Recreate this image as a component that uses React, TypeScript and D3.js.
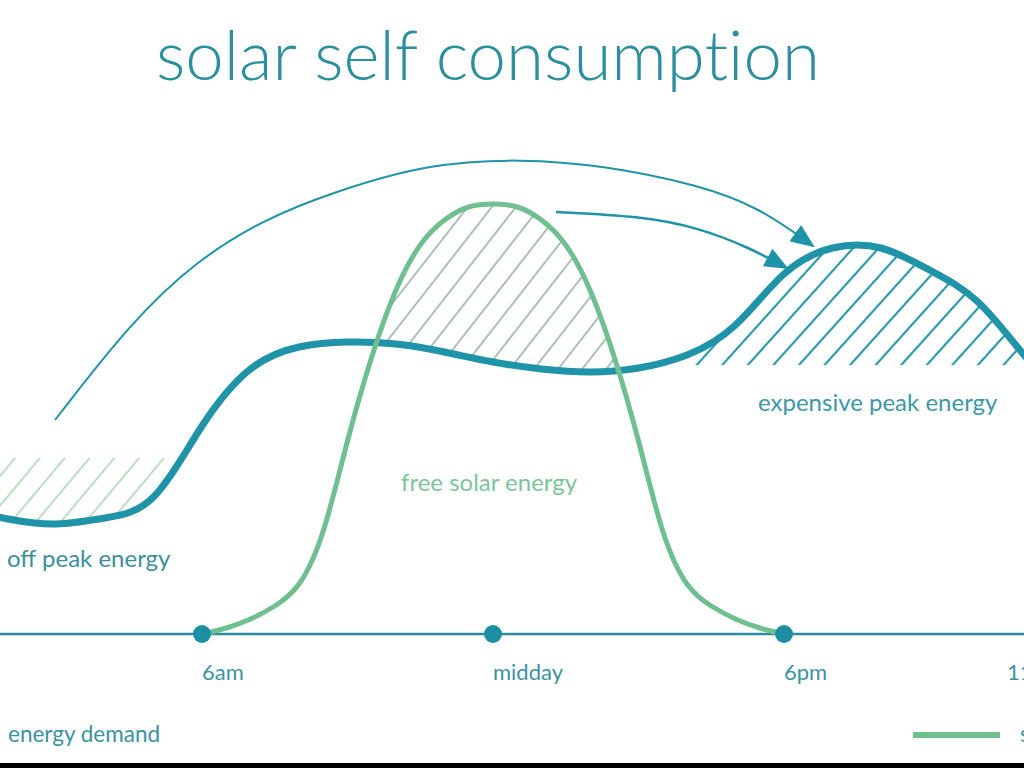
import React from "react";
import * as d3 from "d3";

// ---- data (hour of day, energy in arbitrary kW units) ----
const demandHours = [0, 1, 2, 3, 4, 5, 6, 7, 8, 9, 10, 11, 12, 13, 14, 15, 16, 17, 18, 19, 20, 21, 22, 23, 24];
const demandValues = [2.78, 2.52, 2.3, 2.2, 2.32, 2.74, 4.16, 5.3, 5.74, 5.84, 5.8, 5.64, 5.44, 5.3, 5.24, 5.32, 5.58, 6.18, 7.2, 7.72, 7.72, 7.28, 6.64, 5.52, 4.48];

const solarHours = [6, 6.5, 7, 7.5, 8, 8.5, 9, 9.5, 10, 10.5, 11, 11.5, 12, 12.5, 13, 13.5, 14, 14.5, 15, 15.5, 16, 16.5, 17, 17.5, 18];
const solarValues = [0, 0.12, 0.3, 0.56, 1.0, 2.06, 3.86, 5.54, 6.88, 7.78, 8.28, 8.54, 8.6, 8.54, 8.28, 7.78, 6.88, 5.54, 3.86, 2.06, 1.0, 0.56, 0.3, 0.12, 0];

const tickDotHours = [6, 12, 18];
const tickLabelHours = [6, 12, 18, 22.6];
const tickLabels = ["6am", "midday", "6pm", "11pm"];

const offPeakThreshold = 3.52;
const peakThreshold = 5.38;
const peakStartHour = 16;

// annotation arrows (hour, value)
const longArrowHours = [2.97, 4.52, 5.9, 7.26, 8.64, 10.7, 12.6, 14.21, 16.27, 17.51, 18.6];
const longArrowValues = [4.28, 6.22, 7.48, 8.28, 8.82, 9.42, 9.5, 9.38, 8.98, 8.52, 7.76];
const shortArrowHours = [13.3, 15.03, 16.27, 17.3, 18.06];
const shortArrowValues = [8.44, 8.36, 8.12, 7.72, 7.32];

const W = 1024;
const H = 768;
const TEAL = "#1f93a8";
const GREEN = "#6fbf91";
const TEXT_TEAL = "#3a93a2";

export default function App() {
  const x = d3.scaleLinear().domain([0, 24]).range([-89, 1075]);
  const y = d3.scaleLinear().domain([0, 10]).range([634, 134]);

  const demand = demandHours.map((h, i) => [h, demandValues[i]] as [number, number]);
  const solar = solarHours.map((h, i) => [h, solarValues[i]] as [number, number]);

  const demandCurve = d3.curveNatural;
  const solarCurve = d3.curveNatural;
  const demandLine = d3
    .line<[number, number]>()
    .x((d) => x(d[0]))
    .y((d) => y(d[1]))
    .curve(demandCurve);
  const solarLine = d3
    .line<[number, number]>()
    .x((d) => x(d[0]))
    .y((d) => y(d[1]))
    .curve(solarCurve);

  const aboveDemand = d3
    .area<[number, number]>()
    .x((d) => x(d[0]))
    .y0(0)
    .y1((d) => y(d[1]))
    .curve(demandCurve)(demand)!;
  const belowDemand = d3
    .area<[number, number]>()
    .x((d) => x(d[0]))
    .y0(H)
    .y1((d) => y(d[1]))
    .curve(demandCurve)(demand)!;
  const belowSolar = d3
    .area<[number, number]>()
    .x((d) => x(d[0]))
    .y0(H)
    .y1((d) => y(d[1]))
    .curve(solarCurve)(solar)!;

  const arrowLine = d3
    .line<[number, number]>()
    .x((d) => x(d[0]))
    .y((d) => y(d[1]))
    .curve(d3.curveBasis);
  const longArrow = longArrowHours.map((h, i) => [h, longArrowValues[i]] as [number, number]);
  const shortArrow = shortArrowHours.map((h, i) => [h, shortArrowValues[i]] as [number, number]);

  const font = "Lato, 'Open Sans', sans-serif";
  const noLig = { fontVariantLigatures: "none" as const, fontFeatureSettings: "'liga' 0" };

  return (
    <svg width={W} height={H} style={{ position: "absolute", left: 0, top: 0, background: "#fff" }}>
      <style>{`body{margin:0}`}</style>
      <defs>
        <pattern id="hatchLeft" width={19} height={19} patternUnits="userSpaceOnUse" patternTransform="rotate(40)">
          <line x1={2} y1={0} x2={2} y2={19} stroke="#9dcfac" strokeWidth={1.4} />
        </pattern>
        <pattern id="hatchMid" width={19} height={19} patternUnits="userSpaceOnUse" patternTransform="rotate(38)">
          <line x1={2} y1={0} x2={2} y2={19} stroke="#7f9c94" strokeWidth={1.3} />
        </pattern>
        <pattern id="hatchRight" width={19} height={19} patternUnits="userSpaceOnUse" patternTransform="rotate(42)">
          <line x1={2} y1={0} x2={2} y2={19} stroke="#2a98a8" strokeWidth={2.2} />
        </pattern>
        <clipPath id="clipAboveDemand">
          <path d={aboveDemand} />
        </clipPath>
        <clipPath id="clipBelowDemand">
          <path d={belowDemand} />
        </clipPath>
        <clipPath id="clipBelowSolar">
          <path d={belowSolar} />
        </clipPath>
        <marker id="arrowHead" viewBox="0 0 24 20" refX={22} refY={10} markerWidth={24} markerHeight={20} markerUnits="userSpaceOnUse" orient="auto">
          <path d="M0,0 L24,10 L0,20 Z" fill={TEAL} />
        </marker>
      </defs>

      {/* title */}
      <text x={488} y={80} textAnchor="middle" fontFamily={font} fontWeight={300} fontSize={69} fill="#2b8f9e" style={noLig}>
        solar self consumption
      </text>

      {/* axis */}
      <line x1={0} x2={W} y1={y(0)} y2={y(0)} stroke="#2a8c9d" strokeWidth={2.5} />

      {/* off-peak hatch: below threshold, above demand */}
      <g clipPath="url(#clipAboveDemand)">
        <rect x={0} y={y(offPeakThreshold)} width={W} height={y(0) - y(offPeakThreshold)} fill="url(#hatchLeft)" />
      </g>
      {/* peak hatch: above threshold, below demand */}
      <g clipPath="url(#clipBelowDemand)">
        <rect x={x(peakStartHour)} y={0} width={W - x(peakStartHour)} height={y(peakThreshold)} fill="url(#hatchRight)" />
      </g>
      {/* free solar hatch: below solar, above demand */}
      <g clipPath="url(#clipAboveDemand)">
        <g clipPath="url(#clipBelowSolar)">
          <rect x={0} y={0} width={W} height={y(0)} fill="url(#hatchMid)" />
        </g>
      </g>

      {/* arrows */}
      <path d={arrowLine(longArrow)!} fill="none" stroke={TEAL} strokeWidth={2} markerEnd="url(#arrowHead)" />
      <path d={arrowLine(shortArrow)!} fill="none" stroke={TEAL} strokeWidth={2.5} markerEnd="url(#arrowHead)" />

      {/* demand */}
      <path d={demandLine(demand)!} fill="none" stroke={TEAL} strokeWidth={7} strokeLinecap="round" />
      {/* solar */}
      <path d={solarLine(solar)!} fill="none" stroke={GREEN} strokeWidth={5} strokeLinecap="round" />

      {/* tick dots */}
      {tickDotHours.map((h) => (
        <circle key={h} cx={x(h)} cy={y(0)} r={9} fill="#1e8ea3" />
      ))}
      {tickLabels.map((t, i) => (
        <text key={t} x={x(tickLabelHours[i])} y={680} fontFamily={font} fontSize={22} fill={TEXT_TEAL}>
          {t}
        </text>
      ))}

      {/* annotations */}
      <text x={7} y={567} fontFamily={font} fontSize={24} fill="#3d8f9b">off peak energy</text>
      <text x={401} y={491} fontFamily={font} fontSize={24} fill="#7cc59b">free solar energy</text>
      <text x={758} y={411} fontFamily={font} fontSize={24} fill="#3d98a5">expensive peak energy</text>

      {/* legend */}
      <text x={8} y={742} fontFamily={font} fontSize={22.5} fill={TEXT_TEAL}>energy demand</text>
      <line x1={913} x2={1000} y1={735} y2={735} stroke={GREEN} strokeWidth={6} />
      <text x={1020} y={742} fontFamily={font} fontSize={22.5} fill={TEXT_TEAL}>solar generation</text>

      {/* bottom band */}
      <rect x={0} y={763} width={W} height={5} fill="#000" />
    </svg>
  );
}
